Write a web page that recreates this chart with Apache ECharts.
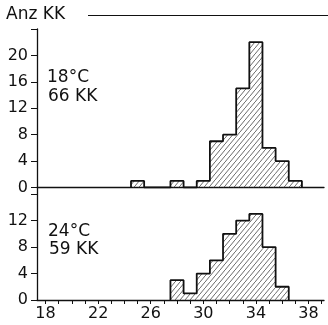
<!DOCTYPE html>
<html>
<head>
<meta charset="utf-8">
<script src="https://cdn.jsdelivr.net/npm/echarts@6/dist/echarts.min.js"></script>
<style>html,body{margin:0;padding:0;background:#fff}#c{width:328px;height:325px}</style>
</head>
<body>
<div id="c"></div>
<script>
// Bin centres (°C-Klassen, width 1) and counts
var bins18 = [25, 28, 30, 31, 32, 33, 34, 35, 36, 37];
var counts18 = [1, 1, 1, 7, 8, 15, 22, 6, 4, 1];
var bins24 = [28, 29, 30, 31, 32, 33, 34, 35, 36];
var counts24 = [3, 1, 4, 6, 10, 12, 13, 8, 2];
var xTickLabels = [18, 22, 26, 30, 34, 38];
var yTicksTop = [0, 4, 8, 12, 16, 20];
var yTicksBottom = [0, 4, 8, 12];
var panelLabels = [['18°C', '66 KK'], ['24°C', '59 KK']];
var axisTitle = 'Anz KK';

var FONT = 'DejaVu Sans';
var INK = '#111';

// hatch pattern
var tile = document.createElement('canvas');
tile.width = 5; tile.height = 6;
var tc = tile.getContext('2d');
tc.strokeStyle = '#444';
tc.lineWidth = 0.8;
tc.beginPath();
tc.moveTo(-1, 7.2); tc.lineTo(6, -1.2);
tc.stroke();
var hatch = { image: tile, repeat: 'repeat' };

function outline(bins, counts) {
  var pts = [];
  for (var i = 0; i < bins.length; i++) {
    var c = bins[i], v = counts[i];
    var prevContig = i > 0 && bins[i - 1] === c - 1;
    if (!prevContig) pts.push([c - 0.5, 0]);
    pts.push([c - 0.5, v]);
    pts.push([c + 0.5, v]);
    var nextContig = i < bins.length - 1 && bins[i + 1] === c + 1;
    if (!nextContig) pts.push([c + 0.5, 0]);
  }
  return pts;
}
function rectData(bins, counts) {
  return bins.map(function (c, i) { return [c, counts[i]]; });
}
function renderRect(params, api) {
  var c = api.value(0), v = api.value(1);
  var p0 = api.coord([c - 0.5, v]);
  var p1 = api.coord([c + 0.5, 0]);
  return {
    type: 'rect',
    shape: { x: p0[0], y: p0[1], width: p1[0] - p0[0], height: p1[1] - p0[1] },
    style: { fill: hatch, stroke: null }
  };
}

var XMIN = 17.35, XMAX = 39.18;
var intTicks = [];
for (var t = 18; t <= 39; t++) intTicks.push(t);

var chart = echarts.init(document.getElementById('c'), null, { renderer: 'canvas' });
chart.setOption({
  animation: false,
  grid: [
    { left: 37, right: 4, top: 29, height: 158.5 },
    { left: 37, right: 4, top: 187.5, height: 112.5 }
  ],
  xAxis: [
    { type: 'value', gridIndex: 0, min: XMIN, max: XMAX,
      axisLine: { show: true, onZero: false, lineStyle: { color: INK, width: 1.3 } },
      axisTick: { show: false }, axisLabel: { show: false }, splitLine: { show: false } },
    { type: 'value', gridIndex: 1, min: XMIN, max: XMAX,
      axisLine: { show: true, onZero: false, lineStyle: { color: INK, width: 1.3 } },
      axisTick: { show: true, customValues: intTicks, length: 4, lineStyle: { color: INK, width: 1 } },
      axisLabel: { show: true, customValues: xTickLabels, margin: 6, fontFamily: FONT, fontSize: 16, color: INK },
      splitLine: { show: false } }
  ],
  yAxis: [
    { type: 'value', gridIndex: 0, min: 0, max: 24, interval: 4,
      axisLine: { show: true, lineStyle: { color: INK, width: 1.3 } },
      axisTick: { show: true, length: 6, lineStyle: { color: INK, width: 1 } },
      axisLabel: { show: true, customValues: yTicksTop, margin: 9, fontFamily: FONT, fontSize: 16, color: INK },
      splitLine: { show: false } },
    { type: 'value', gridIndex: 1, min: 0, max: 17, interval: 4,
      axisLine: { show: true, lineStyle: { color: INK, width: 1.3 } },
      axisTick: { show: true, length: 6, lineStyle: { color: INK, width: 1 } },
      axisLabel: { show: true, customValues: yTicksBottom, margin: 9, fontFamily: FONT, fontSize: 16, color: INK },
      splitLine: { show: false } }
  ],
  series: [
    { type: 'custom', xAxisIndex: 0, yAxisIndex: 0, data: rectData(bins18, counts18), renderItem: renderRect, silent: true },
    { type: 'custom', xAxisIndex: 1, yAxisIndex: 1, data: rectData(bins24, counts24), renderItem: renderRect, silent: true },
    { type: 'line', xAxisIndex: 0, yAxisIndex: 0, data: outline(bins18, counts18), showSymbol: false, symbol: 'none',
      lineStyle: { color: INK, width: 1.8 }, z: 5, silent: true },
    { type: 'line', xAxisIndex: 1, yAxisIndex: 1, data: outline(bins24, counts24), showSymbol: false, symbol: 'none',
      lineStyle: { color: INK, width: 1.8 }, z: 5, silent: true }
  ],
  graphic: [
    { type: 'text', left: 6, top: 6, style: { text: axisTitle, font: '17px ' + FONT, fill: INK } },
    { type: 'line', shape: { x1: 88, y1: 15.5, x2: 328, y2: 15.5 }, style: { stroke: INK, lineWidth: 1.2 } },
    { type: 'text', left: 47, top: 69, style: { text: panelLabels[0][0], font: '17px ' + FONT, fill: INK } },
    { type: 'text', left: 48, top: 88, style: { text: panelLabels[0][1], font: '17px ' + FONT, fill: INK } },
    { type: 'text', left: 48, top: 223, style: { text: panelLabels[1][0], font: '17px ' + FONT, fill: INK } },
    { type: 'text', left: 49, top: 241, style: { text: panelLabels[1][1], font: '17px ' + FONT, fill: INK } }
  ]
});
</script>
</body>
</html>
